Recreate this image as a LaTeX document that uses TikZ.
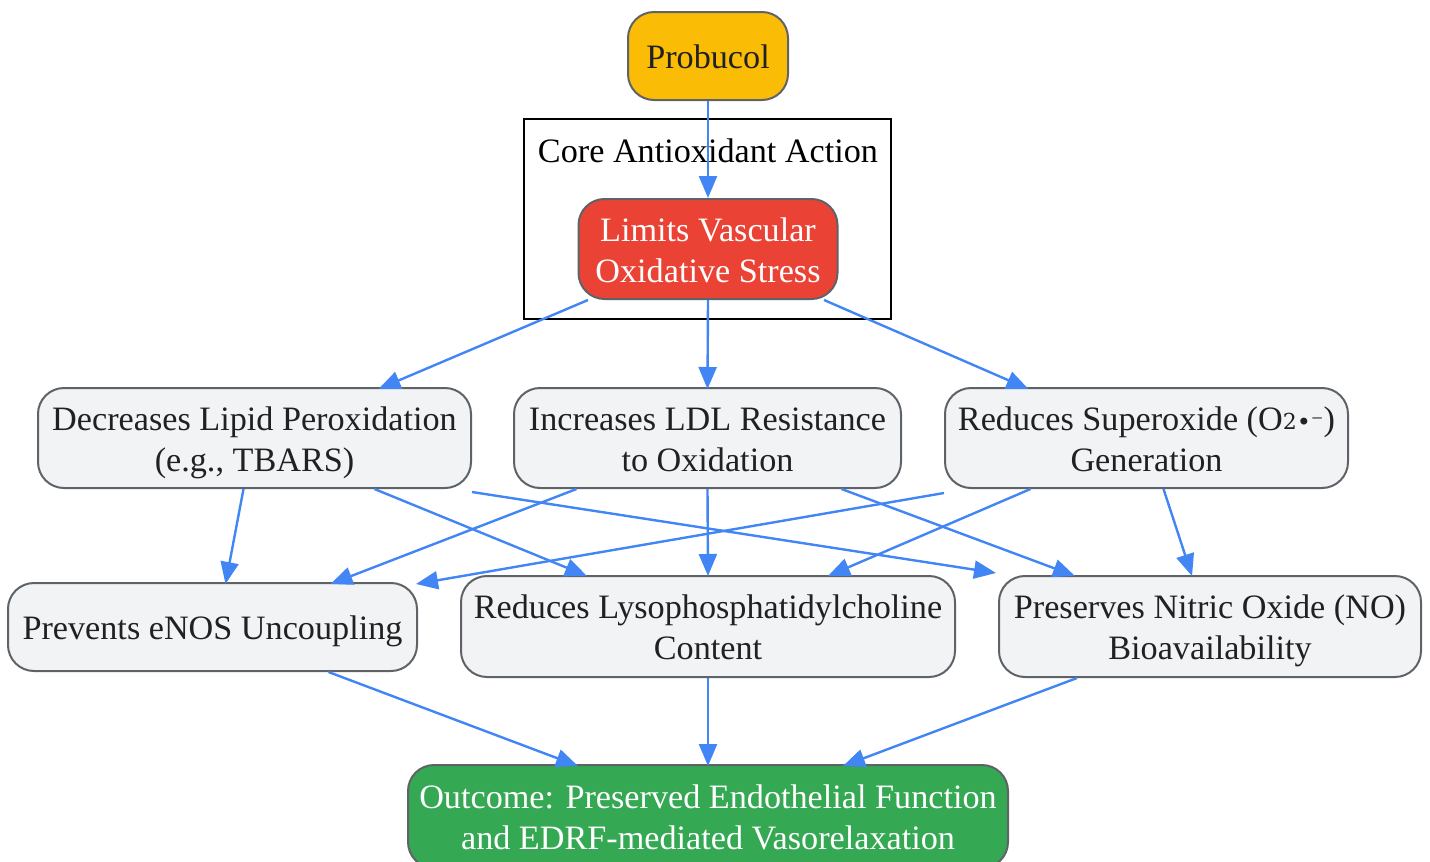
\documentclass[tikz,border=0pt]{standalone}
\usepackage{fontspec}
\setmainfont{Liberation Serif}
\newfontfamily\dvfont{DejaVu Serif}
\usetikzlibrary{arrows.meta,calc}
\definecolor{edgeblue}{HTML}{4285F4}
\definecolor{boxgray}{HTML}{F1F3F4}
\definecolor{bordergray}{HTML}{5F6368}
\definecolor{txtdark}{HTML}{202124}
\definecolor{yel}{HTML}{FBBC05}
\definecolor{redbox}{HTML}{EA4335}
\definecolor{greenbox}{HTML}{34A853}
\tikzset{
  nodebox/.style={draw=bordergray, line width=2pt, rounded corners=26pt, fill=boxgray,
    text=txtdark, align=center, inner sep=0pt, font=\fontsize{34.2}{41}\selectfont,
    text height=30pt, text depth=6pt},
  twoline/.style={text height=72pt, text depth=6pt},
  conn/.style={draw=edgeblue, line width=2.4pt, -{Triangle[length=22pt,width=18pt]}},
}
\begin{document}
\begin{tikzpicture}[x=1pt,y=-1pt]
\useasboundingbox (0,0) rectangle (1430,862);
% cluster
\draw[black, line width=2pt] (524,119) rectangle (891,319);
\node[font=\fontsize{34.2}{41}\selectfont, text=black, inner sep=0pt, text height=30pt, text depth=6pt] (cl) at (708,150) {Core Antioxidant Action};
% nodes
\node[nodebox, fill=yel, minimum width=160pt, minimum height=88pt] (pro) at (708,56) {Probucol};
\node[nodebox, twoline, fill=redbox, text=white, minimum width=259pt, minimum height=100pt] (lim) at (708,249) {Limits Vascular\\Oxidative Stress};
\node[nodebox, twoline, minimum width=433pt, minimum height=100pt] (dec) at (254.5,438) {Decreases Lipid Peroxidation\\(e.g., TBARS)};
\node[nodebox, twoline, minimum width=387pt, minimum height=100pt] (inc) at (707.5,438) {Increases LDL Resistance\\to Oxidation};
\node[nodebox, twoline, minimum width=403pt, minimum height=100pt] (sup) at (1146.5,438) {Reduces Superoxide (O{\dvfont\fontsize{22}{22}\selectfont\raisebox{1pt}{2}}{\dvfont\fontsize{24}{24}\selectfont •⁻})\\Generation};
\node[nodebox, minimum width=409pt, minimum height=88pt] (prev) at (212.5,627) {Prevents eNOS Uncoupling};
\node[nodebox, twoline, minimum width=494pt, minimum height=101pt] (lyso) at (708,626.5) {Reduces Lysophosphatidylcholine\\Content};
\node[nodebox, twoline, minimum width=422pt, minimum height=101pt] (pres) at (1210,626.5) {Preserves Nitric Oxide (NO)\\Bioavailability};
\node[nodebox, twoline, fill=greenbox, text=white, minimum width=600pt, minimum height=103pt] (out) at (708,816.5) {Outcome: Preserved Endothelial Function\\and EDRF-mediated Vasorelaxation};
% edges
\draw[conn] (pro.south) -- (lim.north);
\draw[conn] ([xshift=-120pt]lim.south) -- ([xshift=124pt,yshift=-2pt]dec.north);
\draw[conn] (lim.south) -- ([yshift=-2pt]inc.north);
\draw[conn] ([xshift=116pt]lim.south) -- ([xshift=-118pt,yshift=-2pt]sup.north);
\draw[conn] ([xshift=-11pt]dec.south) -- ([xshift=13pt,yshift=-2pt]prev.north);
\draw[conn] ([xshift=120pt]dec.south) -- ([xshift=-121pt,yshift=-1pt]lyso.north);
\draw[conn] ([yshift=-3pt]dec.south east) -- ([xshift=-2pt,yshift=2pt]pres.north west);
\draw[conn] ([xshift=-131pt]inc.south) -- ([xshift=118pt,yshift=-2pt]prev.north);
\draw[conn] (inc.south) -- ([yshift=-1pt]lyso.north);
\draw[conn] ([xshift=134pt]inc.south) -- ([xshift=-135pt,yshift=-1pt]pres.north);
\draw[conn] ([yshift=-4pt]sup.south west) -- ([xshift=-2pt,yshift=-2pt]prev.north east);
\draw[conn] ([xshift=-116pt]sup.south) -- ([xshift=120pt,yshift=-1pt]lyso.north);
\draw[conn] ([xshift=17pt]sup.south) -- ([xshift=-18pt,yshift=-1pt]pres.north);
\draw[conn] ([xshift=116pt]prev.south) -- ([xshift=-130pt,yshift=-2pt]out.north);
\draw[conn] (lyso.south) -- ([yshift=-2pt]out.north);
\draw[conn] ([xshift=-133pt]pres.south) -- ([xshift=135pt,yshift=-2pt]out.north);
\end{tikzpicture}
\end{document}
